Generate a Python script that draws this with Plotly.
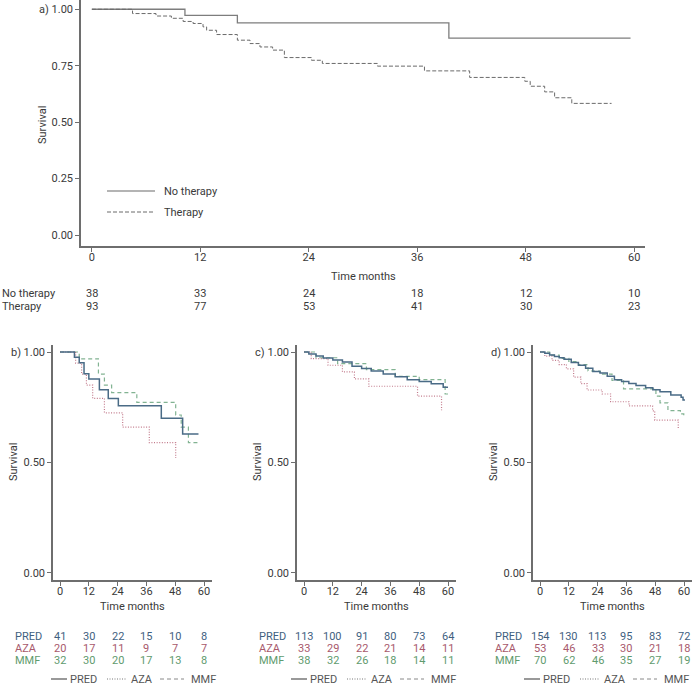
import plotly.graph_objects as go

W, H = 696, 689
FONT = "Roboto"
AXIS_COLOR = "#6e6e6e"
TEXT_COLOR = "#3a3a3a"

# ---------------- data ----------------
months = [0, 12, 24, 36, 48, 60]

# panel a
nt_time = [0, 10.3, 16.1, 39.5, 59.6]
nt_surv = [1.0, 0.973, 0.940, 0.872, 0.872]
th_time = [0, 4.5, 7.1, 8.8, 10.1, 11.2, 12.3, 12.7, 13.8, 16.1, 17.5, 18.6, 20.0,
           21.3, 24.3, 25.5, 31.6, 36.8, 41.8, 47.9, 48.5, 50.1, 51.2, 53.1, 57.5]
th_surv = [1.0, 0.981, 0.970, 0.960, 0.946, 0.937, 0.922, 0.907, 0.888, 0.863, 0.848,
           0.833, 0.819, 0.786, 0.774, 0.760, 0.748, 0.727, 0.698, 0.681, 0.659, 0.634,
           0.608, 0.583, 0.583]
risk_no_therapy = [38, 33, 24, 18, 12, 10]
risk_therapy = [93, 77, 53, 41, 30, 23]

# panel b
b_pred_t = [0, 6, 8, 10, 12, 16.4, 20.1, 24.3, 42.2, 51.1, 57.7]
b_pred_s = [1, 0.976, 0.951, 0.902, 0.878, 0.829, 0.790, 0.757, 0.700, 0.629, 0.629]
b_aza_t = [0, 6.5, 9, 11, 13.6, 18.5, 26.1, 37.2, 48.2]
b_aza_s = [1, 0.95, 0.90, 0.85, 0.79, 0.725, 0.66, 0.59, 0.52]
b_mmf_t = [0, 8, 16, 18.5, 21.5, 32, 48.2, 50.5, 53.5, 57.8]
b_mmf_s = [1, 0.969, 0.90, 0.85, 0.816, 0.772, 0.715, 0.66, 0.59, 0.59]
b_risk_pred = [41, 30, 22, 15, 10, 8]
b_risk_aza = [20, 17, 11, 9, 7, 7]
b_risk_mmf = [32, 30, 20, 17, 13, 8]

# panel c
c_pred_t = [0, 2, 5, 8, 12, 16, 20, 24, 28, 33, 38, 43, 48, 53, 58, 60]
c_pred_s = [1, 0.991, 0.982, 0.973, 0.964, 0.955, 0.936, 0.925, 0.914, 0.90, 0.888,
            0.875, 0.866, 0.856, 0.84, 0.84]
c_aza_t = [0, 3, 10, 16, 21, 27, 47.3, 57.3]
c_aza_s = [1, 0.97, 0.94, 0.91, 0.878, 0.845, 0.80, 0.737]
c_mmf_t = [0, 5, 14, 26, 38, 48, 58.8, 60]
c_mmf_s = [1, 0.974, 0.947, 0.92, 0.89, 0.875, 0.81, 0.81]
c_risk_pred = [113, 100, 91, 80, 73, 64]
c_risk_aza = [33, 29, 22, 21, 14, 11]
c_risk_mmf = [38, 32, 26, 18, 14, 11]

# panel d
d_pred_t = [0, 2, 4, 6, 8, 10, 13, 16, 19, 22, 25, 28, 31, 34, 37, 40, 44, 47, 50,
            54.5, 58.8, 59.6, 60.4]
d_pred_s = [1, 0.994, 0.987, 0.980, 0.974, 0.967, 0.953, 0.94, 0.926, 0.912, 0.905,
            0.89, 0.875, 0.866, 0.857, 0.848, 0.838, 0.829, 0.82, 0.805, 0.795, 0.783,
            0.783]
d_aza_t = [0, 2, 5, 8, 11, 14, 17, 19.6, 25.9, 29.4, 37.1, 46.9, 47.8, 57.6]
d_aza_s = [1, 0.981, 0.962, 0.943, 0.924, 0.886, 0.857, 0.828, 0.81, 0.775, 0.756,
           0.734, 0.692, 0.65]
d_mmf_t = [0, 4, 8, 12, 16, 20, 25, 30, 34.8, 48.3, 50, 53.3, 58.5, 59.9]
d_mmf_s = [1, 0.986, 0.971, 0.957, 0.943, 0.914, 0.9, 0.871, 0.833, 0.80, 0.77, 0.735,
           0.72, 0.70]
d_risk_pred = [154, 130, 113, 95, 83, 72]
d_risk_aza = [53, 46, 33, 30, 21, 18]
d_risk_mmf = [70, 62, 46, 35, 27, 19]

groups = ["PRED", "AZA", "MMF"]
group_line_colors = {"PRED": "#4a6b86", "AZA": "#c27a8b", "MMF": "#82b392"}
group_text_colors = {"PRED": "#3f5f7f", "AZA": "#a8596c", "MMF": "#5f9b6e"}
group_dash = {"PRED": "solid", "AZA": "1px,1.6px", "MMF": "4px,3px"}
group_width = {"PRED": 1.5, "AZA": 1.2, "MMF": 1.2}


def px(x):
    return x / W


def py(y):
    return 1 - y / H


fig = go.Figure()

# ---- panel a traces ----
fig.add_trace(go.Scatter(x=nt_time, y=nt_surv, mode="lines", line_shape="hv",
                         line=dict(color="#7d7d7d", width=1.3), xaxis="x", yaxis="y",
                         showlegend=False, name="No therapy"))
fig.add_trace(go.Scatter(x=th_time, y=th_surv, mode="lines", line_shape="hv",
                         line=dict(color="#6a6a6a", width=1, dash="4px,2px"),
                         xaxis="x", yaxis="y", showlegend=False, name="Therapy"))

panels = [
    ("b", "x2", "y2", 53, {"PRED": (b_pred_t, b_pred_s), "AZA": (b_aza_t, b_aza_s),
                           "MMF": (b_mmf_t, b_mmf_s)},
     {"PRED": b_risk_pred, "AZA": b_risk_aza, "MMF": b_risk_mmf}, 51),
    ("c", "x3", "y3", 297, {"PRED": (c_pred_t, c_pred_s), "AZA": (c_aza_t, c_aza_s),
                            "MMF": (c_mmf_t, c_mmf_s)},
     {"PRED": c_risk_pred, "AZA": c_risk_aza, "MMF": c_risk_mmf}, 291),
    ("d", "x4", "y4", 533, {"PRED": (d_pred_t, d_pred_s), "AZA": (d_aza_t, d_aza_s),
                            "MMF": (d_mmf_t, d_mmf_s)},
     {"PRED": d_risk_pred, "AZA": d_risk_aza, "MMF": d_risk_mmf}, 524),
]

for label, xa, ya, axpx, curves, risks, legx in panels:
    for g in ["MMF", "AZA", "PRED"]:
        t, s = curves[g]
        fig.add_trace(go.Scatter(x=t, y=s, mode="lines", line_shape="hv",
                                 line=dict(color=group_line_colors[g], width=group_width[g],
                                           dash=group_dash[g]),
                                 xaxis=xa, yaxis=ya, showlegend=False, name=g))

axis_common = dict(showline=True, linecolor=AXIS_COLOR, linewidth=1.5, ticks="outside",
                   ticklen=4, tickwidth=1, tickcolor=AXIS_COLOR, showgrid=False,
                   zeroline=False, tickfont=dict(family=FONT, size=11, color=TEXT_COLOR),
                   fixedrange=True)

layout = dict(
    width=W, height=H, margin=dict(l=0, r=0, t=0, b=0),
    paper_bgcolor="white", plot_bgcolor="white",
    font=dict(family=FONT, size=11, color=TEXT_COLOR),
    showlegend=False,
    xaxis=dict(domain=[px(81), px(645)], range=[-1.2, 61.2], tickvals=months,
               anchor="y", ticklabelstandoff=-4, **axis_common),
    yaxis=dict(domain=[py(246), 1.0], range=[-0.0487, 1.041],
               tickvals=[0, 0.25, 0.5, 0.75, 1.0], tickformat=".2f", anchor="x",
               **axis_common),
)
bottom_y = [py(580), py(345)]
for i, (label, xa, ya, axpx, curves, risks, legx) in enumerate(panels):
    n = i + 2
    layout[f"xaxis{n}"] = dict(domain=[px(axpx), px(axpx + 159)], range=[-2.93, 63.33],
                               tickvals=months, anchor=f"y{n}", ticklabelstandoff=-4,
                               **axis_common)
    layout[f"yaxis{n}"] = dict(domain=bottom_y, range=[-0.0317, 1.0317],
                               tickvals=[0, 0.5, 1.0], tickformat=".2f", anchor=f"x{n}",
                               **axis_common)

fig.update_layout(**layout)

ann = []
shapes = []


def text(x, y, s, color=TEXT_COLOR, xanchor="left", angle=0, xref="paper"):
    ann.append(dict(x=x, y=y, xref=xref, yref="paper", text=s, showarrow=False,
                    xanchor=xanchor, yanchor="middle", textangle=angle,
                    font=dict(family=FONT, size=11, color=color)))


# panel a texts
text(px(37), py(10), "a)")
text(px(42), py(125), "Survival", xanchor="center", angle=-90)
text(px(363), py(276), "Time months", xanchor="center")
text(px(0), py(293), "No therapy")
text(px(0), py(306), "Therapy")
for m, v in zip(months, risk_no_therapy):
    text(m, py(293), str(v), xanchor="center", xref="x")
for m, v in zip(months, risk_therapy):
    text(m, py(306), str(v), xanchor="center", xref="x")

# panel a legend
shapes.append(dict(type="line", xref="paper", yref="paper", x0=px(107), x1=px(155),
                   y0=py(191), y1=py(191), line=dict(color="#6a6a6a", width=1.1)))
shapes.append(dict(type="line", xref="paper", yref="paper", x0=px(107), x1=px(155),
                   y0=py(212), y1=py(212), line=dict(color="#6a6a6a", width=1, dash="4px,2px")))
text(px(162), py(191), "No therapy")
text(px(162), py(212), "Therapy")

row_y = {"PRED": 636, "AZA": 648, "MMF": 660}
for i, (label, xa, ya, axpx, curves, risks, legx) in enumerate(panels):
    text(px(axpx - 44), py(352), label + ")")
    text(px(axpx - 39), py(462), "Survival", xanchor="center", angle=-90)
    text(px(axpx + 79), py(606), "Time months", xanchor="center")
    for g in groups:
        text(px(axpx - 40), py(row_y[g]), g, color=group_text_colors[g])
        for m, v in zip(months, risks[g]):
            text(m, py(row_y[g]), str(v), color=group_text_colors[g], xanchor="center",
                 xref=xa)
    # legend
    ly = py(679)
    shapes.append(dict(type="line", xref="paper", yref="paper", x0=px(legx),
                       x1=px(legx + 16), y0=ly, y1=ly,
                       line=dict(color="#555555", width=1.2)))
    text(px(legx + 17), ly, "PRED", color="#555555")
    shapes.append(dict(type="line", xref="paper", yref="paper", x0=px(legx + 56),
                       x1=px(legx + 76), y0=ly, y1=ly,
                       line=dict(color="#777777", width=1, dash="1px,1.5px")))
    text(px(legx + 78), ly, "AZA", color="#555555")
    shapes.append(dict(type="line", xref="paper", yref="paper", x0=px(legx + 109),
                       x1=px(legx + 133), y0=ly, y1=ly,
                       line=dict(color="#888888", width=1, dash="4px,3px")))
    text(px(legx + 138), ly, "MMF", color="#555555")

fig.update_layout(annotations=ann, shapes=shapes)
fig.write_html("out.html", config={"displayModeBar": False},
               post_script="document.body.style.margin='0';document.body.style.overflow='hidden';")
